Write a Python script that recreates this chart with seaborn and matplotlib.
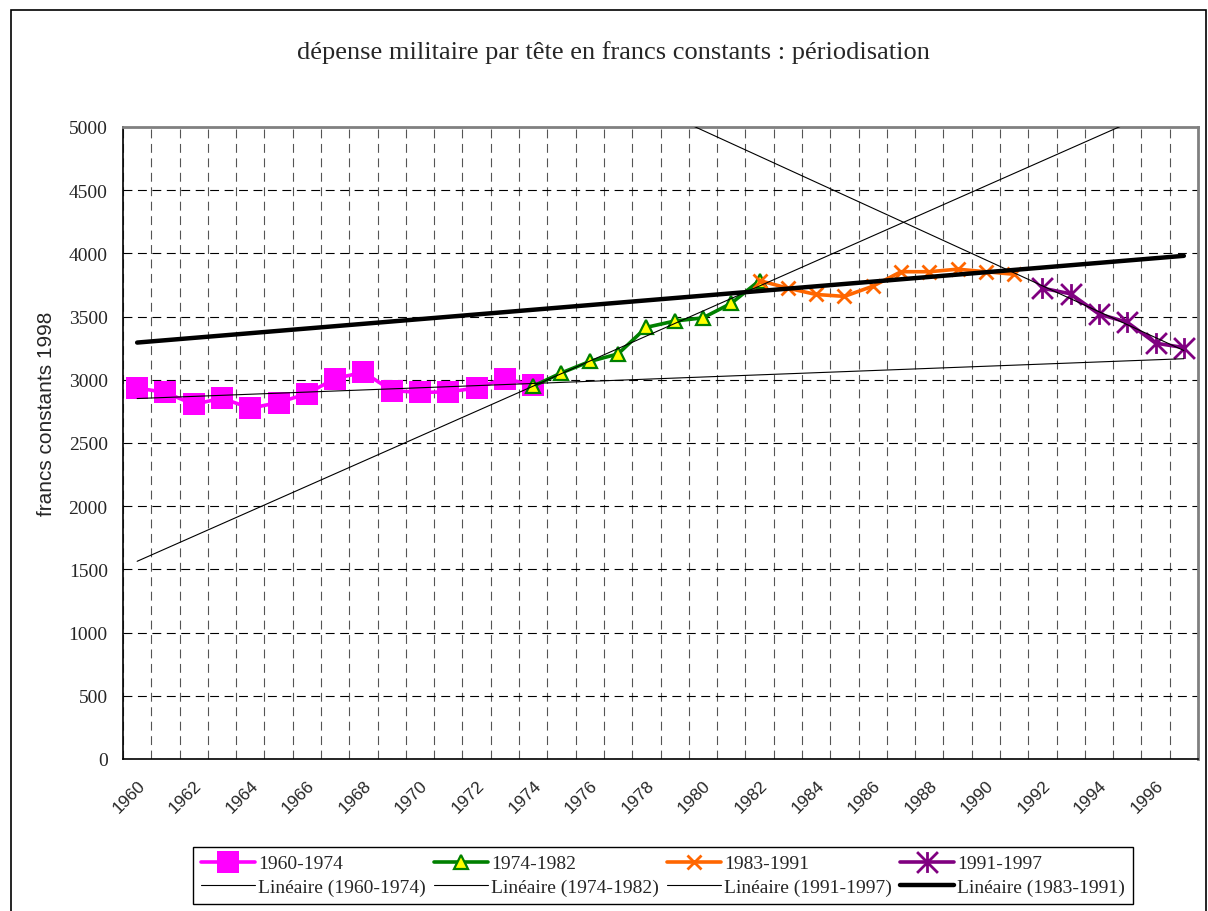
import numpy as np
import pandas as pd
import seaborn as sns
import matplotlib
matplotlib.use("Agg")
import matplotlib.pyplot as plt
from matplotlib.path import Path
from matplotlib.patches import Rectangle

# data (francs constants 1998)
years = list(range(1960, 1998))

years_6074 = list(range(1960, 1975))
vals_6074 = [2935, 2900, 2805, 2855, 2775, 2820, 2890, 3010, 3060, 2915, 2900, 2905, 2935, 3010, 2955]

years_7482 = list(range(1974, 1983))
vals_7482 = [2950, 3055, 3145, 3205, 3415, 3465, 3490, 3605, 3785]

years_8391 = list(range(1982, 1992))
vals_8391 = [3785, 3725, 3675, 3660, 3740, 3855, 3855, 3875, 3855, 3835]

years_9197 = list(range(1992, 1998))
vals_9197 = [3725, 3680, 3520, 3455, 3290, 3255]

tick_years = years[::2]
title = "dépense militaire par tête en francs constants : périodisation"

sns.set_theme(style="white")
plt.rcParams["font.family"] = ["Liberation Serif", "DejaVu Serif"]

W, H = 1208, 912
fig = plt.figure(figsize=(W / 100, H / 100), dpi=100)
ax = fig.add_axes([123 / W, 1 - 760 / H, 1075 / W, 632 / H])

# Excel-like star marker: an X with a vertical bar
star = Path([(-1, -1), (1, 1), (-1, 1), (1, -1), (0, -1), (0, 1)],
            [Path.MOVETO, Path.LINETO, Path.MOVETO, Path.LINETO, Path.MOVETO, Path.LINETO])

series = [
    ("1960-1974", years_6074, vals_6074, dict(color="#FF00FF", marker="s", markersize=16,
                                              markeredgecolor="#FF00FF", markeredgewidth=0)),
    ("1974-1982", years_7482, vals_7482, dict(color="#008000", marker="^", markersize=10,
                                              markerfacecolor="#FFFF00", markeredgecolor="#008000",
                                              markeredgewidth=1.6)),
    ("1983-1991", years_8391, vals_8391, dict(color="#FF6600", marker="x", markersize=10,
                                              markeredgecolor="#FF6600", markeredgewidth=2)),
    ("1991-1997", years_9197, vals_9197, dict(color="#800080", marker=star, markersize=15,
                                              markeredgecolor="#800080", markeredgewidth=2)),
]

for label, xs, ys, style in series:
    df = pd.DataFrame({"year": xs, "value": ys})
    sns.lineplot(data=df, x="year", y="value", ax=ax, label=label, linewidth=2.6,
                 zorder=2, **style)

# linear trendlines (least squares on each period), drawn over all years
trends = [
    ("Linéaire (1960-1974)", years_6074, vals_6074, 0.8),
    ("Linéaire (1974-1982)", years_7482, vals_7482, 0.8),
    ("Linéaire (1991-1997)", years_9197, vals_9197, 0.8),
    ("Linéaire (1983-1991)", years_8391, vals_8391, 3.2),
]
for label, xs, ys, lw in trends:
    slope, icpt = np.polyfit(xs, ys, 1)
    tdf = pd.DataFrame({"year": years, "value": slope * np.array(years) + icpt})
    sns.lineplot(data=tdf, x="year", y="value", ax=ax, label=label, color="black",
                 linewidth=lw, zorder=3)

ax.set_xlim(1959.5, 1997.5)
ax.set_ylim(0, 5000)
ax.set_xlabel("")
ax.set_ylabel("")

ax.set_yticks(np.arange(0, 5001, 500))
ax.set_yticklabels([str(v) for v in range(0, 5001, 500)], fontsize=14)
ax.set_xticks(tick_years)
ax.set_xticklabels([str(y) for y in tick_years], rotation=45, ha="right",
                   rotation_mode="anchor", fontsize=12.5, family="Liberation Sans")
ax.set_xticks(np.arange(1959.5, 1998, 1), minor=True)
ax.tick_params(axis="x", which="major", length=0, pad=13)
ax.tick_params(axis="x", which="minor", length=5, width=1, color="black", direction="out")
ax.tick_params(axis="y", which="major", length=6, width=1, color="black", direction="out", pad=5)

ax.grid(False)
ax.yaxis.grid(True, which="major", color="black", linestyle=(0, (8, 5)), linewidth=0.8)
ax.xaxis.grid(True, which="minor", color="#555555", linestyle=(0, (8, 5)), linewidth=0.8)
ax.set_axisbelow(True)

for side in ["left", "bottom"]:
    ax.spines[side].set_color("black")
    ax.spines[side].set_linewidth(1.2)
for side in ["top", "right"]:
    ax.spines[side].set_color("#808080")
    ax.spines[side].set_linewidth(2)

handles, labels = ax.get_legend_handles_labels()
lookup = dict(zip(labels, handles))
order = ["1960-1974", "Linéaire (1960-1974)", "1974-1982", "Linéaire (1974-1982)",
         "1983-1991", "Linéaire (1991-1997)", "1991-1997", "Linéaire (1983-1991)"]
leg = ax.legend([lookup[k] for k in order], order, ncol=4, loc="upper left",
                bbox_to_anchor=(193 / W, 1 - 848 / H), bbox_transform=fig.transFigure,
                fontsize=14, frameon=True, fancybox=False, framealpha=1,
                edgecolor="black", handlelength=2.8, handletextpad=0.15,
                columnspacing=0.4, labelspacing=0.3, borderpad=0.4, borderaxespad=0)
leg.get_frame().set_linewidth(1)

fig.text(0.508, 1 - 53 / H, title, ha="center", va="center", fontsize=19)
fig.text(47 / W, 1 - 414 / H, "francs constants 1998", rotation=90, ha="center",
         va="center", fontsize=15, family="Liberation Sans")

# outer chart border
fig.add_artist(Rectangle((11 / W, -0.05), (1206 - 11) / W, 1 - 11 / H + 0.05,
                         transform=fig.transFigure, fill=False, edgecolor="black",
                         linewidth=1.2))

fig.savefig("out.png", dpi=100)
